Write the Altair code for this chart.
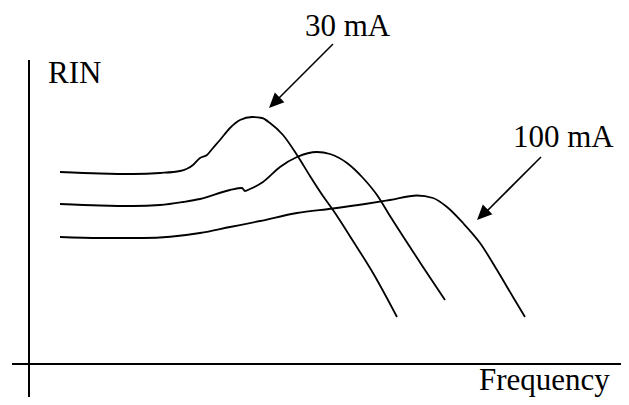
import altair as alt
import pandas as pd

# Schematic: RIN vs frequency for three bias currents (arbitrary units)
freq_30 = [31, 71, 104, 131, 151, 164, 171, 178, 184, 191, 201, 211, 223, 233, 241, 254, 268, 281, 294, 304, 324, 344, 368]
rin_30 = [192, 190.5, 190, 191, 193, 199, 206, 209, 216, 224, 236, 244, 247, 246, 241, 229, 209, 188, 168, 154, 123, 91, 47]

freq_mid = [31, 71, 104, 131, 154, 171, 201, 213, 216, 221, 234, 251, 268, 288, 301, 318, 334, 348, 361, 381, 394, 416]
rin_mid = [160, 158.5, 158, 159, 162, 165, 174, 176, 173, 175, 182, 197, 207, 212, 210, 201, 186, 169, 148, 117, 97, 64]

freq_100 = [31, 71, 114, 171, 201, 231, 268, 304, 336, 361, 388, 404, 418, 434, 451, 468, 484, 496]
rin_100 = [127, 126, 126, 131, 137, 143, 151, 155.5, 160, 164, 168.5, 166, 157, 141, 121, 94, 67, 47]

label_text = ["RIN", "30 mA", "100 mA", "Frequency"]
label_x = [19, 276, 484, 450]
label_y = [281, 328, 217, -26]

arrow_x = [304, 512]
arrow_y = [320, 207]
arrow_x2 = [245, 453]
arrow_y2 = [261, 148]
tip_x = [240, 448]
tip_y = [256, 144]

x_dom = [-21, 592]
y_dom = [-33, 356]

rows = []
for name, fx, ry in [("30 mA", freq_30, rin_30), ("mid", freq_mid, rin_mid), ("100 mA", freq_100, rin_100)]:
    for a, b in zip(fx, ry):
        rows.append({"series": name, "f": a, "r": b})
curves_df = pd.DataFrame(rows)

xs = alt.Scale(domain=x_dom, nice=False, zero=False)
ys = alt.Scale(domain=y_dom, nice=False, zero=False)

curves = alt.Chart(curves_df).mark_line(
    color="black", strokeWidth=1.8, interpolate="monotone", clip=False
).encode(
    x=alt.X("f:Q", scale=xs, axis=None),
    y=alt.Y("r:Q", scale=ys, axis=None),
    detail="series:N",
)

axes_df = pd.DataFrame({
    "x": [0, -17],
    "x2": [0, 592],
    "y": [-33, 0],
    "y2": [304, 0],
})
axes = alt.Chart(axes_df).mark_rule(color="black", strokeWidth=2).encode(
    x=alt.X("x:Q", scale=xs, axis=None),
    x2="x2:Q",
    y=alt.Y("y:Q", scale=ys, axis=None),
    y2="y2:Q",
)

arrows_df = pd.DataFrame({"x": arrow_x, "y": arrow_y, "x2": arrow_x2, "y2": arrow_y2})
arrow_lines = alt.Chart(arrows_df).mark_rule(color="black", strokeWidth=1.6).encode(
    x=alt.X("x:Q", scale=xs, axis=None),
    x2="x2:Q",
    y=alt.Y("y:Q", scale=ys, axis=None),
    y2="y2:Q",
)

tips_df = pd.DataFrame({"x": tip_x, "y": tip_y})
arrow_heads = alt.Chart(tips_df).mark_point(
    shape="M0,0L-0.45,1L0.45,1Z", filled=True, color="black", opacity=1,
    size=900, angle=225, strokeWidth=0
).encode(
    x=alt.X("x:Q", scale=xs, axis=None),
    y=alt.Y("y:Q", scale=ys, axis=None),
)

labels_df = pd.DataFrame({"t": label_text, "x": label_x, "y": label_y})
labels = alt.Chart(labels_df).mark_text(
    align="left", baseline="alphabetic", font="Liberation Serif", fontSize=31, color="black"
).encode(
    x=alt.X("x:Q", scale=xs, axis=None),
    y=alt.Y("y:Q", scale=ys, axis=None),
    text="t:N",
)

chart = alt.layer(axes, curves, arrow_lines, arrow_heads, labels).properties(
    width=613, height=389, padding=0, autosize=alt.AutoSizeParams(type="none")
).configure_view(stroke=None)

chart.save("out.html", embed_options={"renderer": "svg", "actions": False})
